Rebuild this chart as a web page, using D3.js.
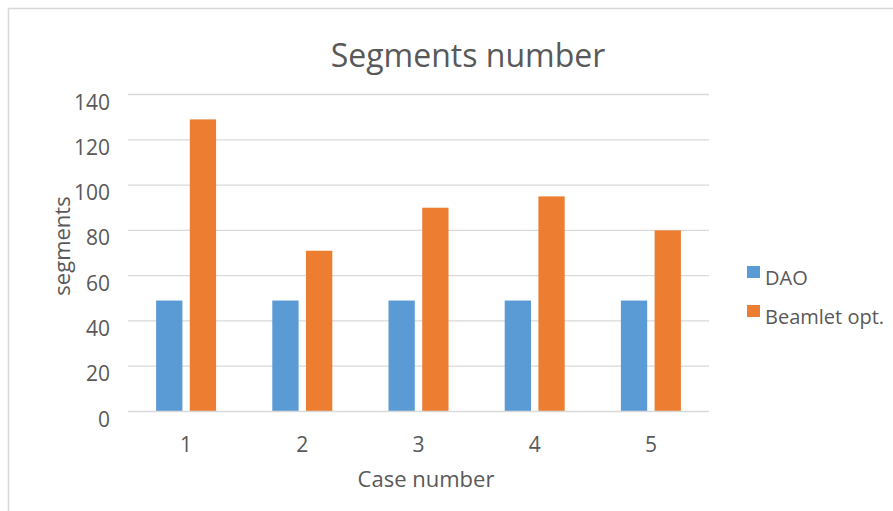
<!DOCTYPE html>
<html><head><meta charset="utf-8">
<script src="https://cdn.jsdelivr.net/npm/d3@7"></script>
<style>body{margin:0;background:#fff}svg{display:block}text{font-family:"Open Sans",sans-serif;fill:#595959}</style>
</head><body><svg id="c" width="893" height="511"></svg>
<script>
const categories = ["1","2","3","4","5"];
const seriesNames = ["DAO","Beamlet opt."];
const daoValues = [49,49,49,49,49];
const beamletValues = [129,71,90,95,80];
const yTicks = [0,20,40,60,80,100,120,140];
const colors = ["#5B9BD5","#ED7D31"];

(function(){
const svg = d3.select("#c");
svg.append("rect").attr("x",8.5).attr("y",8.5).attr("width",900).attr("height",520)
  .attr("fill","none").attr("stroke","#D9D9D9").attr("stroke-width",1.5);

const pLeft=128, pRight=709, pTop=94.5, pBottom=411.5;
const x = d3.scaleBand().domain(categories).range([pLeft,pRight]);
const y = d3.scaleLinear().domain([0,140]).range([pBottom,pTop]);
const xs = d3.scaleBand().domain(seriesNames).range([0,60]).paddingInner(0.22);

svg.append("g").selectAll("line").data(yTicks.filter(d=>d>0)).join("line")
  .attr("x1",pLeft).attr("x2",pRight).attr("y1",d=>y(d)).attr("y2",d=>y(d))
  .attr("stroke","#D9D9D9").attr("stroke-width",1.3);

const data = categories.map((c,i)=>({c, vals:[daoValues[i],beamletValues[i]]}));
const g = svg.append("g");
data.forEach(d=>{
  const cx = x(d.c)+x.bandwidth()/2 - 30;
  d.vals.forEach((v,j)=>{
    g.append("rect").attr("x",cx+xs(seriesNames[j])).attr("width",xs.bandwidth())
      .attr("y",y(v)).attr("height",y(0)-y(v)).attr("fill",colors[j]);
  });
});

svg.append("line").attr("x1",pLeft).attr("x2",pRight).attr("y1",y(0)).attr("y2",y(0))
  .attr("stroke","#D9D9D9").attr("stroke-width",1.3);

const yAxis = d3.axisLeft(y).tickValues(yTicks).tickSize(0).tickPadding(0);
const ya = svg.append("g").attr("transform",`translate(${pLeft-18},0)`).call(yAxis);
ya.select(".domain").remove();
ya.selectAll("text").style("font-size","21px").attr("fill","#595959").attr("dy",null).attr("y",14.5).style("font-family","'Open Sans',sans-serif");

const xAxis = d3.axisBottom(x).tickSize(0).tickPadding(0);
const xa = svg.append("g").attr("transform",`translate(0,${y(0)})`).call(xAxis);
xa.select(".domain").remove();
xa.selectAll("text").style("font-size","21px").attr("fill","#595959").attr("dy",null).attr("y",40.5).style("font-family","'Open Sans',sans-serif");

svg.append("text").attr("x",468).attr("y",67).attr("text-anchor","middle")
  .style("font-size","32px").text("Segments number");
svg.append("text").attr("x",426).attr("y",487).attr("text-anchor","middle")
  .style("font-size","22px").text("Case number");
svg.append("text").attr("transform","translate(70,246) rotate(-90)").attr("text-anchor","middle")
  .style("font-size","22px").text("segments");

const lg = svg.append("g");
seriesNames.forEach((n,i)=>{
  lg.append("rect").attr("x",747).attr("y",266+i*39).attr("width",13).attr("height",12).attr("fill",colors[i]);
  lg.append("text").attr("x",765).attr("y",285+i*39).style("font-size","20px").text(n);
});
})();
</script></body></html>
